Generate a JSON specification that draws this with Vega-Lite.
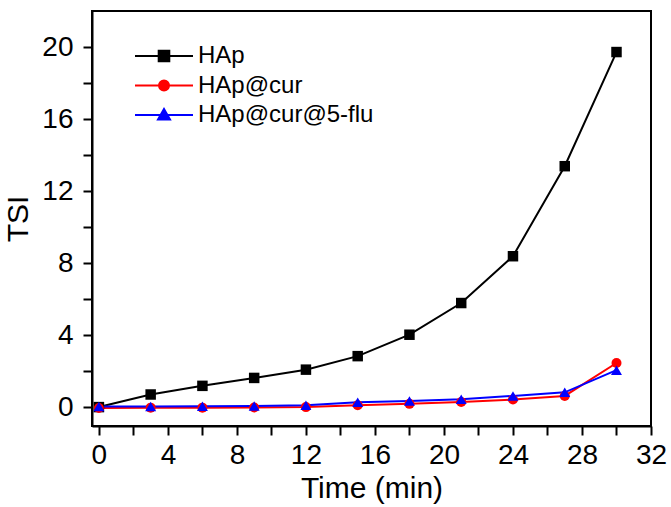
{
  "$schema": "https://vega.github.io/schema/vega-lite/v6.json",
  "width": 559,
  "height": 415,
  "autosize": "none",
  "padding": {"left": 92, "top": 11, "right": 20, "bottom": 81},
  "background": "white",
  "config": {
    "font": "Liberation Sans",
    "view": {"stroke": "black", "strokeWidth": 2},
    "axis": {
      "domainColor": "black", "domainWidth": 2, "tickColor": "black", "tickWidth": 2,
      "labelColor": "black", "titleColor": "black", "grid": false,
      "labelFont": "Liberation Sans", "titleFont": "Liberation Sans",
      "labelFontSize": 28, "titleFontSize": 30, "titleFontWeight": "normal"
    }
  },
  "data": {
    "values": [
      {"t": 0, "tsi": 0.0, "sample": "HAp"},
      {"t": 3, "tsi": 0.7, "sample": "HAp"},
      {"t": 6, "tsi": 1.18, "sample": "HAp"},
      {"t": 9, "tsi": 1.62, "sample": "HAp"},
      {"t": 12, "tsi": 2.08, "sample": "HAp"},
      {"t": 15, "tsi": 2.83, "sample": "HAp"},
      {"t": 18, "tsi": 4.02, "sample": "HAp"},
      {"t": 21, "tsi": 5.78, "sample": "HAp"},
      {"t": 24, "tsi": 8.38, "sample": "HAp"},
      {"t": 27, "tsi": 13.38, "sample": "HAp"},
      {"t": 30, "tsi": 19.72, "sample": "HAp"},
      {"t": 0, "tsi": -0.05, "sample": "HAp@cur"},
      {"t": 3, "tsi": -0.03, "sample": "HAp@cur"},
      {"t": 6, "tsi": -0.03, "sample": "HAp@cur"},
      {"t": 9, "tsi": -0.02, "sample": "HAp@cur"},
      {"t": 12, "tsi": 0.0, "sample": "HAp@cur"},
      {"t": 15, "tsi": 0.1, "sample": "HAp@cur"},
      {"t": 18, "tsi": 0.18, "sample": "HAp@cur"},
      {"t": 21, "tsi": 0.28, "sample": "HAp@cur"},
      {"t": 24, "tsi": 0.42, "sample": "HAp@cur"},
      {"t": 27, "tsi": 0.62, "sample": "HAp@cur"},
      {"t": 30, "tsi": 2.45, "sample": "HAp@cur"},
      {"t": 0, "tsi": 0.03, "sample": "HAp@cur@5-flu"},
      {"t": 3, "tsi": 0.03, "sample": "HAp@cur@5-flu"},
      {"t": 6, "tsi": 0.05, "sample": "HAp@cur@5-flu"},
      {"t": 9, "tsi": 0.06, "sample": "HAp@cur@5-flu"},
      {"t": 12, "tsi": 0.1, "sample": "HAp@cur@5-flu"},
      {"t": 15, "tsi": 0.27, "sample": "HAp@cur@5-flu"},
      {"t": 18, "tsi": 0.34, "sample": "HAp@cur@5-flu"},
      {"t": 21, "tsi": 0.44, "sample": "HAp@cur@5-flu"},
      {"t": 24, "tsi": 0.62, "sample": "HAp@cur@5-flu"},
      {"t": 27, "tsi": 0.82, "sample": "HAp@cur@5-flu"},
      {"t": 30, "tsi": 2.05, "sample": "HAp@cur@5-flu"}
    ]
  },
  "encoding": {
    "x": {
      "field": "t", "type": "quantitative",
      "scale": {"domain": [-0.4, 32], "nice": false, "zero": false},
      "axis": {
        "title": "Time (min)",
        "values": [0, 2, 4, 6, 8, 10, 12, 14, 16, 18, 20, 22, 24, 26, 28, 30, 32],
        "labelExpr": "datum.value % 4 === 0 ? datum.label : ''",
        "tickSize": 9, "labelPadding": 6, "titlePadding": 4,
        "labelOverlap": false, "labelFlush": false,
        "encode": {"ticks": {"update": {"y2": {"signal": "datum.value % 4 === 0 ? 9 : 5"}}}}
      }
    },
    "y": {
      "field": "tsi", "type": "quantitative",
      "scale": {"domain": [-1.05, 22], "nice": false, "zero": false},
      "axis": {
        "title": "TSI",
        "values": [0, 2, 4, 6, 8, 10, 12, 14, 16, 18, 20],
        "labelExpr": "datum.value % 4 === 0 ? datum.label : ''",
        "tickSize": 9, "labelPadding": 10, "titlePadding": 8,
        "labelOverlap": false, "labelFlush": false,
        "encode": {"ticks": {"update": {"x2": {"signal": "datum.value % 4 === 0 ? -9 : -5"}}}}
      }
    },
    "color": {
      "field": "sample", "type": "nominal",
      "scale": {"domain": ["HAp", "HAp@cur", "HAp@cur@5-flu"], "range": ["#000000", "#ff0000", "#0000ff"]},
      "legend": {
        "title": null, "orient": "none", "legendX": 60, "legendY": 33,
        "padding": 0, "symbolSize": 400, "labelFontSize": 24, "labelColor": "black",
        "labelFont": "Liberation Sans", "labelOffset": 22, "rowPadding": 5.5, "labelLimit": 400,
        "symbolStrokeWidth": 2, "symbolOpacity": 1,
        "encode": {
          "symbols": {
            "update": {
              "shape": {"signal": "datum.value === 'HAp' ? 'M-2.9,0H2.9M-0.53,-0.53H0.53V0.53H-0.53Z' : datum.value === 'HAp@cur' ? 'M-2.9,0H2.9M0.5,0A0.5,0.5,0,1,1,-0.5,0A0.5,0.5,0,1,1,0.5,0Z' : 'M-2.9,0H2.9M-0.6,0.45L0,-0.6L0.6,0.45Z'"},
              "strokeWidth": {"value": 2},
              "opacity": {"value": 1}
            }
          }
        }
      }
    }
  },
  "layer": [
    {"mark": {"type": "line", "strokeWidth": 2}},
    {
      "transform": [{"filter": "datum.sample === 'HAp'"}],
      "mark": {"type": "point", "filled": true, "opacity": 1, "size": 110, "shape": "square"}
    },
    {
      "transform": [{"filter": "datum.sample === 'HAp@cur'"}],
      "mark": {"type": "point", "filled": true, "opacity": 1, "size": 100, "shape": "circle"}
    },
    {
      "transform": [{"filter": "datum.sample === 'HAp@cur@5-flu'"}],
      "mark": {"type": "point", "filled": true, "opacity": 1, "size": 120, "shape": "triangle-up"}
    }
  ]
}
